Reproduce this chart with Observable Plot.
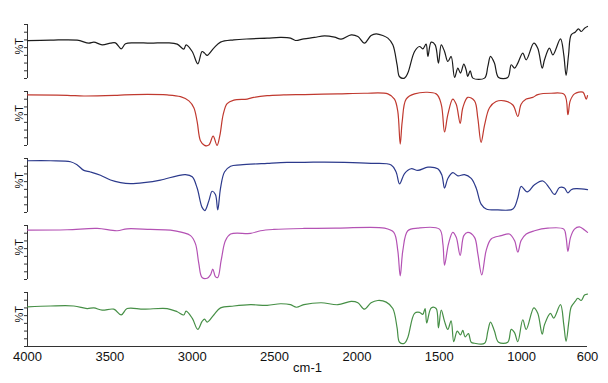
<!DOCTYPE html>
<html>
<head>
<meta charset="utf-8">
<script src="https://cdn.jsdelivr.net/npm/d3@7"></script>
<script src="https://cdn.jsdelivr.net/npm/@observablehq/plot@0.6"></script>
<style>
  html, body { margin: 0; padding: 0; background: #fff; }
</style>
</head>
<body>
<div id="chart"></div>
<script>
// Series names (one panel each, top to bottom) and colours
const seriesNames = ["A", "B", "C", "D", "E"];
const seriesColors = ["#1c1c1c", "#c0392f", "#2c3a8c", "#b452b4", "#468f46"];

// x tick labels (wavenumber, cm-1)
const xTicks = [4000, 3500, 3000, 2500, 2000, 1500, 1000, 600];

// Spectra: [wavenumber, %T (0-100 within panel)]
const spectrumA = [
  [4000,70],[3860,71],[3699,71],[3628,65.5],[3597,67.3],[3547,62.4],[3496,65.5],[3466,66],
  [3431,55],[3405,64.2],[3354,66],[3253,65.5],[3152,66],[3091,63.6],[3051,54.4],[3037,62.4],
  [3000,50],[2966,27.2],[2940,50],[2925,47],[2909,42.7],[2869,56.2],[2828,67.3],[2747,71.6],
  [2646,73.5],[2545,74.7],[2464,76],[2403,74.7],[2373,70.4],[2322,73.5],[2258,76],[2197,79],
  [2136,76.6],[2096,72.9],[2035,80.9],[1994,77.8],[1954,65.5],[1914,79.7],[1883,82.8],[1843,79.7],
  [1812,74.7],[1782,62.4],[1756,25.4],[1741,3.2],[1711,0.7],[1691,10],[1650,50],[1620,59.3],
  [1600,55],[1580,63.6],[1569,40.8],[1549,67.3],[1525,62.4],[1505,28.5],[1488,62.4],[1468,50],
  [1448,31.5],[1428,40.8],[1407,1.9],[1387,19.2],[1371,10],[1351,26.6],[1337,16.1],[1327,3.8],
  [1312,14.3],[1296,0.7],[1225,0.7],[1205,22.3],[1189,40.8],[1165,28.5],[1140,1.9],[1084,1.9],
  [1063,25.4],[1043,19.2],[1023,28.5],[993,47],[972,34.6],[926,65.5],[902,56.2],[875,19.2],
  [861,34.6],[831,56.2],[810,43.9],[764,73.5],[744,43.9],[730,5.6],[715,43.9],[699,80.9],
  [675,85.8],[655,92],[638,87],[618,93.2],[600,96.3]
];
const spectrumB = [
  [4000,93.6],[3759,93],[3658,91.7],[3456,93],[3354,94.3],[3152,93.6],[3071,90.4],[3020,82.7],
  [2990,69.9],[2970,44.3],[2950,9],[2925,0.3],[2899,0.7],[2873,17.4],[2849,0.3],[2832,18.6],
  [2812,57],[2788,77.6],[2747,84],[2666,86],[2626,89.1],[2545,92.4],[2444,93.6],[2318,94.3],
  [2116,95.6],[1954,96.8],[1812,95.6],[1772,85.9],[1752,63.5],[1737,2.6],[1725,44.3],[1701,85.9],
  [1650,95.6],[1519,95.6],[1488,76.3],[1468,25],[1448,57],[1418,86],[1397,76.3],[1373,41],
  [1357,69.9],[1327,89.1],[1286,82.7],[1266,50.7],[1246,5.8],[1225,37.9],[1195,69.9],[1155,81.5],
  [1104,82.7],[1053,75],[1023,53.9],[1003,76.3],[972,86],[932,89.1],[902,94.3],[821,96.8],
  [740,94.3],[719,57],[705,82.7],[679,95.6],[628,98.8],[608,85.9],[600,92.4]
];
const spectrumC = [
  [4000,95.8],[3860,95.8],[3739,94],[3698,88.1],[3658,78],[3618,75],[3557,69.1],[3496,60.1],
  [3435,55.4],[3375,53.6],[3294,55.4],[3193,60.1],[3091,67.9],[3041,70.2],[3000,66.1],[2970,45.3],
  [2940,9.5],[2923,3.6],[2899,21.5],[2879,39.3],[2859,33.4],[2845,4.8],[2828,45.3],[2804,75],
  [2767,85.7],[2707,88.1],[2545,91.1],[2424,92.9],[2318,92.9],[2197,93.4],[2075,92.9],[1914,91.1],
  [1792,88.1],[1762,75],[1741,53],[1711,72],[1671,81],[1630,78],[1569,83.9],[1509,81],
  [1484,69.1],[1468,45.3],[1448,63.1],[1418,73.8],[1387,67.9],[1347,70.2],[1306,63.1],[1276,45.3],
  [1246,15.5],[1215,6.6],[1144,4.8],[1053,6.6],[1023,27.4],[1003,48.2],[966,38.1],[922,51.2],
  [871,58.3],[831,45.3],[800,33.4],[770,46.4],[740,45.3],[719,36.3],[699,42.3],[669,44.1],[600,42.3]
];
const spectrumD = [
  [4000,91.5],[3759,92.1],[3577,94.5],[3456,90.3],[3395,93.9],[3253,92.7],[3132,91.5],[3061,87.2],
  [3010,81.2],[2980,66],[2960,29.7],[2940,3.6],[2909,2.4],[2889,8.5],[2875,19.4],[2859,5.4],
  [2845,3.6],[2824,35.7],[2798,72.1],[2767,84.2],[2646,85.4],[2585,90.3],[2505,92.7],[2322,94.5],
  [2116,95.1],[1832,95.1],[1776,87.2],[1752,53.9],[1737,6.6],[1721,53.9],[1691,90.3],[1630,95.1],
  [1499,93.3],[1478,66],[1468,26.6],[1444,66],[1418,87.2],[1397,78.1],[1373,44.8],[1351,81.2],
  [1327,87.2],[1286,78.1],[1266,47.9],[1242,8.5],[1215,53.9],[1185,75.1],[1124,81.2],[1074,84.2],
  [1043,72.1],[1023,50.9],[1003,72.1],[972,84.2],[922,90.3],[841,95.1],[744,93.3],[730,78.1],
  [719,52.1],[703,78.1],[679,93.3],[649,97.5],[618,91.5],[600,87.2]
];
const spectrumE = [
  [4000,73.3],[3860,75],[3719,75],[3638,70.3],[3597,71.5],[3547,67.3],[3476,69.1],[3431,58.4],
  [3395,70.3],[3294,69.1],[3152,70.3],[3091,64.3],[3051,58.4],[3037,65.5],[3000,52.5],[2966,31.6],
  [2940,46.5],[2925,50.7],[2909,45.3],[2869,58.4],[2828,71.5],[2747,75],[2646,77.4],[2545,76.2],
  [2464,79.2],[2403,77.4],[2367,72.7],[2322,77.4],[2217,81],[2116,77.4],[2035,83.4],[1994,81],
  [1954,69.1],[1914,81],[1873,85.2],[1822,82.2],[1782,70.3],[1756,34.6],[1741,7.8],[1711,6],
  [1691,16.7],[1650,61.4],[1620,63.2],[1600,59.6],[1586,70.3],[1576,43.5],[1549,71.5],[1519,70.3],
  [1505,34.6],[1488,67.3],[1468,46.5],[1448,31.6],[1428,47.7],[1412,9],[1391,28.6],[1371,21.5],
  [1357,29.8],[1343,17.9],[1323,23.9],[1306,7.8],[1286,6],[1225,6],[1205,28.6],[1189,45.3],
  [1165,28.6],[1140,7.8],[1084,7.8],[1063,31.6],[1043,25.6],[1023,9],[993,49.5],[972,31.6],
  [926,71.5],[902,61.4],[875,22.7],[861,40.5],[825,61.4],[805,52.5],[764,77.4],[744,40.5],
  [730,9.6],[713,46.5],[699,73.3],[675,83.4],[659,89.3],[638,85.2],[618,95.3],[600,97.1]
];

const spectra = [spectrumA, spectrumB, spectrumC, spectrumD, spectrumE];
const rows = spectra.flatMap((s, i) => s.map(([wn, t]) => ({series: seriesNames[i], wn, t})));
const yTicks = d3.range(8).map(i => i * 100 / 7);

const chart = Plot.plot({
  width: 608,
  height: 383,
  marginLeft: 27,
  marginRight: 21,
  marginTop: 23,
  marginBottom: 37,
  style: {fontFamily: "'Liberation Sans', Arial, sans-serif", fontSize: "13px", background: "#fff", color: "#111"},
  x: {domain: [4000, 600]},
  y: {domain: [0, 100]},
  fy: {domain: seriesNames, axis: null, paddingInner: 0.2, paddingOuter: 0},
  color: {domain: seriesNames, range: seriesColors},
  marks: [
    Plot.ruleX(seriesNames, {x: () => 4000, fy: d => d, stroke: "#333", strokeWidth: 1}),
    Plot.axisY({ticks: yTicks, tickSize: 3, tickFormat: () => "", label: null, stroke: "#333"}),
    Plot.text(seriesNames, {fy: d => d, text: () => "%T", frameAnchor: "left", rotate: -90, dx: -8, dy: 3, fontSize: 11}),
    Plot.line(rows, {x: "wn", y: "t", fy: "series", stroke: "series", strokeWidth: 1.2, curve: "catmull-rom"}),
    Plot.ruleY([seriesNames[4]], {y: () => 0, fy: d => d, stroke: "#333", strokeWidth: 1}),
    Plot.axisX({ticks: xTicks, tickFormat: d => String(d), tickSize: 0, tickPadding: 5, label: "cm-1", labelAnchor: "center", labelArrow: "none", labelOffset: 25, fontSize: 13})
  ]
});
document.getElementById("chart").appendChild(chart);
</script>
</body>
</html>
